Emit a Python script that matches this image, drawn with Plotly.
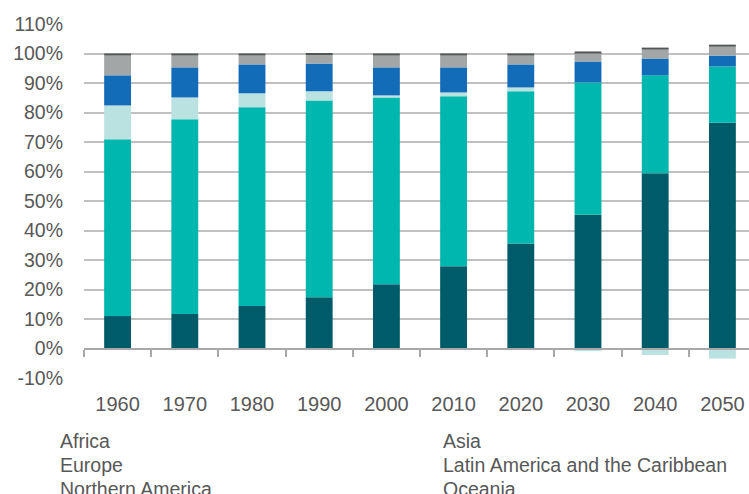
import plotly.graph_objects as go

YEARS = ["1960", "1970", "1980", "1990", "2000", "2010", "2020", "2030", "2040", "2050"]

AFRICA = [11.0, 11.7, 14.4, 17.4, 21.8, 27.9, 35.6, 45.3, 59.4, 76.5]
ASIA = [59.9, 66.0, 67.4, 66.7, 63.3, 57.6, 51.6, 44.9, 33.2, 19.1]
EUROPE = [11.5, 7.4, 4.7, 3.1, 0.7, 1.3, 1.3, -0.9, -2.2, -3.4]
LATIN_AMERICA = [10.2, 10.2, 9.8, 9.4, 9.5, 8.5, 7.8, 7.1, 5.7, 3.7]
NORTHERN_AMERICA = [6.7, 4.0, 3.0, 3.1, 4.0, 4.0, 3.0, 2.7, 3.0, 3.0]
OCEANIA = [0.7, 0.7, 0.7, 0.4, 0.7, 0.7, 0.7, 0.7, 0.7, 0.7]

SERIES_NAMES = ["Africa", "Asia", "Europe", "Latin America and the Caribbean",
                "Northern America", "Oceania"]
SERIES_VALUES = [AFRICA, ASIA, EUROPE, LATIN_AMERICA, NORTHERN_AMERICA, OCEANIA]
SERIES_COLORS = ["#005b68", "#00b7af", "#b9e2e0", "#136cb8", "#a3a6a7", "#525657"]

Y_TICKS = [-10, 0, 10, 20, 30, 40, 50, 60, 70, 80, 90, 100, 110]
Y_TICK_LABELS = ["-10%", "0%", "10%", "20%", "30%", "40%", "50%", "60%",
                 "70%", "80%", "90%", "100%", "110%"]

FONT = "Liberation Sans, Arial, sans-serif"
TEXT_COLOR = "#585858"

fig = go.Figure()
for name, vals, col in zip(SERIES_NAMES, SERIES_VALUES, SERIES_COLORS):
    fig.add_trace(go.Bar(x=YEARS, y=vals, name=name, marker=dict(color=col, line=dict(width=0)),
                         width=0.4, showlegend=False))

W, H = 749, 494
ml, mr, mt, mb = 84, 0, 23.5, 115.5
plot_h = H - mt - mb
plot_w = W - ml - mr
cat_px = 67.2
x_span = plot_w / cat_px

fig.update_layout(
    width=W, height=H,
    margin=dict(l=ml, r=mr, t=mt, b=mb, pad=0, autoexpand=False),
    barmode="relative",
    plot_bgcolor="white", paper_bgcolor="white",
    font=dict(family=FONT, color=TEXT_COLOR, size=19.5),
    xaxis=dict(
        type="category",
        range=[-0.5, -0.5 + x_span],
        anchor="free", position=10 / 120,
        automargin=False,
        showline=True, linecolor="#a8a8a8", linewidth=2,
        ticks="outside", tickson="boundaries", ticklen=7, tickcolor="#a8a8a8", tickwidth=1.5,
        showgrid=False,
        tickfont=dict(family=FONT, size=20, color=TEXT_COLOR),
        ticklabelstandoff=37,
    ),
    yaxis=dict(
        range=[-10, 110],
        automargin=False,
        tickmode="array", tickvals=Y_TICKS, ticktext=Y_TICK_LABELS,
        showgrid=True, gridcolor="#c0c0c0", gridwidth=1.5,
        zeroline=False, showline=False, ticks="",
        tickfont=dict(family=FONT, size=19.5, color=TEXT_COLOR),
        ticklabelstandoff=20,
    ),
)

# legend as plain text labels (two columns, no swatches)
col_x = [58, 441]
row_y = [442, 466, 490]
for i, name in enumerate(SERIES_NAMES):
    px = col_x[i % 2]
    py = row_y[i // 2]
    fig.add_annotation(
        text=name, xref="paper", yref="paper",
        x=(px - ml) / plot_w, y=(H - mb - py) / plot_h,
        xanchor="left", yanchor="middle", showarrow=False,
        font=dict(family=FONT, size=19.5, color=TEXT_COLOR),
    )

fig.write_html(
    "out.html",
    config={"displayModeBar": False},
    post_script="document.body.style.margin='0';document.body.style.overflow='hidden';",
)
